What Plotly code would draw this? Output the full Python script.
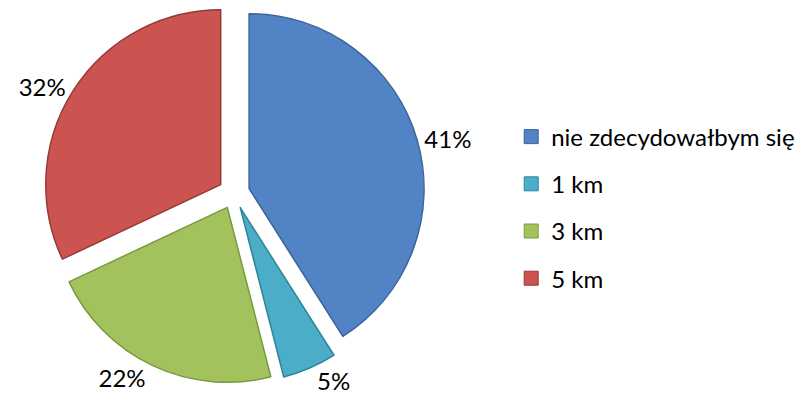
import plotly.graph_objects as go

categories = ["nie zdecydowałbym się", "1 km", "3 km", "5 km"]
values = [41, 5, 22, 32]
colors = ["#5283C4", "#4BADC8", "#A2C25E", "#CB5451"]
edge_colors = ["#3A6399", "#2F8499", "#7A9A3C", "#963A37"]

fig = go.Figure()
fig.add_trace(go.Pie(
    labels=categories,
    values=values,
    sort=False,
    direction="clockwise",
    rotation=0,
    pull=[0.09, 0.09, 0.09, 0.09],
    marker=dict(colors=colors, line=dict(color=edge_colors, width=1.5)),
    textinfo="percent",
    texttemplate="%{percent:.0%}",
    textposition="outside",
    outsidetextfont=dict(size=24, color="#000000", family="Lato"),
    automargin=False,
    showlegend=False,
    domain=dict(x=[0.0475, 0.5375], y=[0.043, 0.994]),
    hoverinfo="label+percent",
))

# legend entries (one per category so they can be spaced like the original)
for cat, col, ec in zip(categories, colors, edge_colors):
    fig.add_trace(go.Scatter(
        x=[None], y=[None], mode="markers", name=cat,
        legendgroup=cat,
        marker=dict(symbol="square", size=14, color=col, line=dict(color=ec, width=1)),
    ))

fig.update_layout(
    width=800, height=401,
    margin=dict(l=0, r=0, t=0, b=0, autoexpand=False),
    paper_bgcolor="white", plot_bgcolor="white",
    xaxis=dict(visible=False), yaxis=dict(visible=False),
    legend=dict(
        x=0.639, y=0.4825, xanchor="left", yanchor="middle",
        font=dict(size=24, color="#000000", family="Lato"),
        tracegroupgap=13, itemwidth=30,
        bgcolor="rgba(0,0,0,0)",
    ),
    showlegend=True,
)

fig.write_html("out.html", config={"displayModeBar": False},
               post_script="document.body.style.margin='0';")
